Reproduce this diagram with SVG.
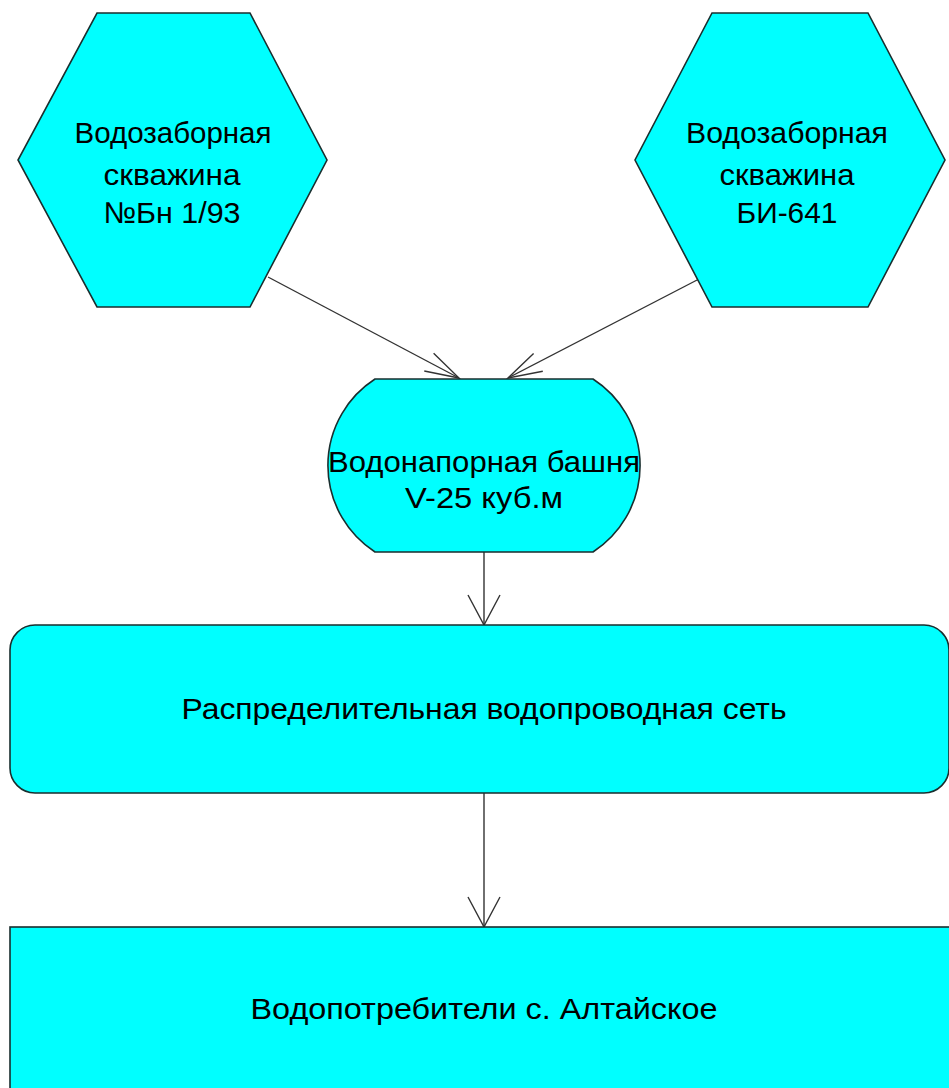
<svg xmlns="http://www.w3.org/2000/svg" width="949" height="1088" viewBox="0 0 949 1088">
  <style>
    .node { fill: #00FFFF; stroke: #1a2e2e; stroke-width: 1.6; }
    .lbl { font-family: "Liberation Sans", "DejaVu Sans", sans-serif; font-size: 30px; fill: #000; text-anchor: middle; }
    .conn { fill: none; stroke: #333; stroke-width: 1.4; }
  </style>
  <defs>
    <marker id="arrN" markerUnits="userSpaceOnUse" viewBox="-36 -14 40 28" refX="0" refY="0" markerWidth="40" markerHeight="28" orient="auto">
      <path d="M-34,-10 L0,0 L-34,10" fill="none" stroke="#333" stroke-width="1.4"/>
    </marker>
    <marker id="arrW" markerUnits="userSpaceOnUse" viewBox="-32 -19 36 38" refX="0" refY="0" markerWidth="36" markerHeight="38" orient="auto">
      <path d="M-30,-16 L0,0 L-30,16" fill="none" stroke="#333" stroke-width="1.4"/>
    </marker>
  </defs>

  <g id="connectors">
    <line class="conn" x1="268" y1="277" x2="459" y2="378" marker-end="url(#arrN)"/>
    <line class="conn" x1="699" y1="279" x2="508" y2="378" marker-end="url(#arrN)"/>
    <line class="conn" x1="484" y1="552" x2="484" y2="625" marker-end="url(#arrW)"/>
    <line class="conn" x1="484" y1="793" x2="484" y2="927" marker-end="url(#arrW)"/>
  </g>

  <g id="well1">
    <polygon class="node" points="97,13 250,13 327,160 250,307 97,307 18,160"/>
    <text class="lbl" x="173" y="143" textLength="197" lengthAdjust="spacingAndGlyphs">Водозаборная</text>
    <text class="lbl" x="172" y="185" textLength="137" lengthAdjust="spacingAndGlyphs">скважина</text>
    <text class="lbl" x="172" y="223" textLength="137" lengthAdjust="spacingAndGlyphs">№Бн 1/93</text>
  </g>

  <g id="well2">
    <polygon class="node" points="712,13 868,13 945,160 868,307 712,307 635,160"/>
    <text class="lbl" x="787" y="143" textLength="202" lengthAdjust="spacingAndGlyphs">Водозаборная</text>
    <text class="lbl" x="787" y="185" textLength="135" lengthAdjust="spacingAndGlyphs">скважина</text>
    <text class="lbl" x="787" y="223" textLength="101" lengthAdjust="spacingAndGlyphs">БИ-641</text>
  </g>

  <g id="tower">
    <path class="node" d="M375,379 L593,379 A103,103 0 0 1 593,552 L375,552 A103,103 0 0 1 375,379 Z"/>
    <text class="lbl" x="484" y="472" textLength="312" lengthAdjust="spacingAndGlyphs">Водонапорная башня</text>
    <text class="lbl" x="484" y="508" textLength="158" lengthAdjust="spacingAndGlyphs">V-25 куб.м</text>
  </g>

  <g id="network">
    <rect class="node" x="10" y="625" width="939" height="168" rx="25" ry="25"/>
    <text class="lbl" x="484" y="719" textLength="605" lengthAdjust="spacingAndGlyphs">Распределительная водопроводная сеть</text>
  </g>

  <g id="consumers">
    <rect class="node" x="10" y="927" width="950" height="200"/>
    <text class="lbl" x="484" y="1019" textLength="467" lengthAdjust="spacingAndGlyphs">Водопотребители с. Алтайское</text>
  </g>
</svg>
